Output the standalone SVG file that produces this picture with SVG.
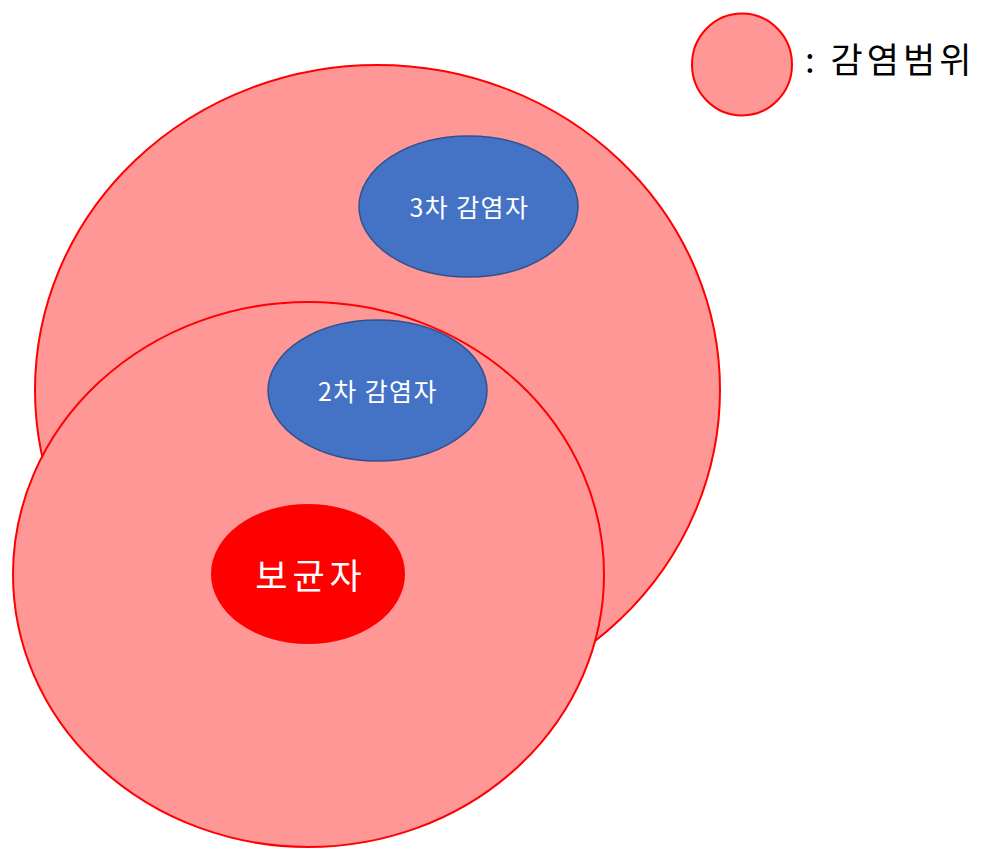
<svg xmlns="http://www.w3.org/2000/svg" width="995" height="859" viewBox="0 0 995 859">
<style>
.range{fill:#FF9797;stroke:#FF0000;stroke-width:2}
.inf{fill:#4472C4;stroke:#2F528F;stroke-width:1.5}
.t{font-family:"Noto Sans CJK KR","Noto Sans",sans-serif;text-anchor:middle;dominant-baseline:central;fill:#FFFFFF}
.s{font-size:25px;letter-spacing:1.4px}
</style>
<g id="range-large"><ellipse class="range" cx="377.5" cy="390" rx="342.5" ry="325"/></g>
<g id="range-small"><ellipse class="range" cx="308.5" cy="574.5" rx="295.5" ry="272.5"/></g>
<g id="infected-3"><ellipse class="inf" cx="468.5" cy="206.5" rx="109.5" ry="70.5"/><text class="t s" x="469.5" y="206">3차 감염자</text></g>
<g id="infected-2"><ellipse class="inf" cx="377.5" cy="390.5" rx="109.5" ry="70.5"/><text class="t s" x="378" y="390">2차 감염자</text></g>
<g id="carrier"><ellipse cx="308" cy="574" rx="97" ry="70" fill="#FF0000"/><text class="t" x="311" y="573" font-size="35" letter-spacing="5">보균자</text></g>
<g id="legend"><ellipse class="range" cx="742" cy="64.5" rx="50" ry="51"/><text x="805" y="57" font-family="Noto Sans CJK KR,Noto Sans,sans-serif" font-size="35" letter-spacing="4" fill="#000000" dominant-baseline="central">: 감염범위</text></g>
<g id="connectors"/>
</svg>
